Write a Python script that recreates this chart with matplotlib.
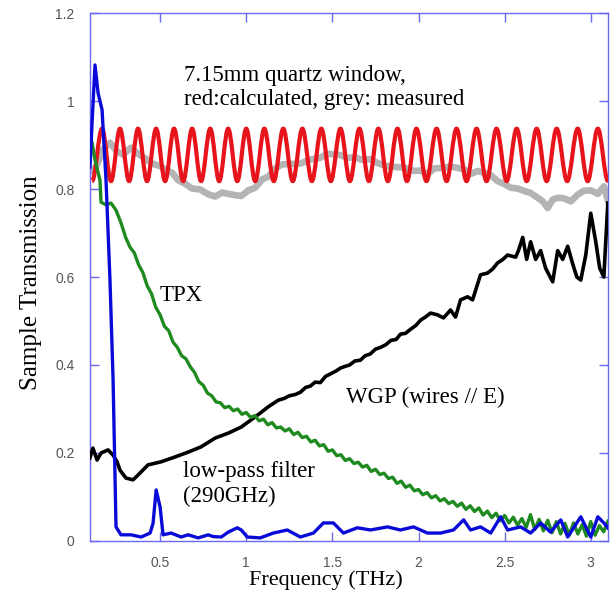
import matplotlib
matplotlib.use("Agg")
import matplotlib.pyplot as plt
from matplotlib.path import Path
from matplotlib.patches import PathPatch

# ---------------- data (frequency in THz, transmission) ----------------
# quartz window, calculated Fabry-Perot fringes: extrema positions and levels
red_trough_freq = [0.105, 0.215, 0.320, 0.424, 0.529, 0.634, 0.738, 0.843, 0.948, 1.052,
                   1.160, 1.270, 1.381, 1.491, 1.602, 1.712, 1.822, 1.933, 2.046, 2.163,
                   2.279, 2.395, 2.512, 2.628, 2.744, 2.863, 2.982, 3.100]
red_peak_freq = [0.163, 0.267, 0.372, 0.477, 0.581, 0.686, 0.791, 0.895, 1.000, 1.105,
                 1.215, 1.326, 1.436, 1.547, 1.657, 1.767, 1.878, 1.988, 2.105, 2.221,
                 2.337, 2.453, 2.570, 2.686, 2.802, 2.924, 3.041]
red_peak_val = 0.937
red_trough_val = 0.818

# quartz window, measured
grey_freq = [0.110, 0.134, 0.169, 0.209, 0.250, 0.285, 0.331, 0.372, 0.413, 0.453,
             0.500, 0.535, 0.570, 0.605, 0.645, 0.686, 0.733, 0.779, 0.820, 0.860,
             0.895, 0.936, 0.971, 1.012, 1.052, 1.093, 1.128, 1.169, 1.209, 1.256,
             1.314, 1.372, 1.430, 1.471, 1.506, 1.547, 1.587, 1.634, 1.674, 1.721,
             1.767, 1.820, 1.866, 1.913, 1.971, 2.012, 2.052, 2.093, 2.145, 2.186,
             2.227, 2.267, 2.302, 2.343, 2.378, 2.419, 2.459, 2.494, 2.535, 2.576,
             2.610, 2.651, 2.692, 2.721, 2.750, 2.779, 2.808, 2.843, 2.884, 2.924,
             2.959, 3.000, 3.041, 3.076, 3.099]
grey_val = [0.840, 0.855, 0.890, 0.905, 0.885, 0.878, 0.894, 0.880, 0.870, 0.858,
            0.852, 0.843, 0.837, 0.820, 0.812, 0.801, 0.799, 0.788, 0.783, 0.792,
            0.789, 0.786, 0.784, 0.797, 0.803, 0.822, 0.828, 0.847, 0.856, 0.857,
            0.858, 0.867, 0.871, 0.880, 0.879, 0.877, 0.871, 0.872, 0.866, 0.868,
            0.858, 0.852, 0.850, 0.849, 0.841, 0.842, 0.834, 0.847, 0.848, 0.851,
            0.848, 0.844, 0.834, 0.841, 0.837, 0.832, 0.818, 0.812, 0.803, 0.801,
            0.796, 0.791, 0.780, 0.772, 0.757, 0.776, 0.780, 0.779, 0.772, 0.787,
            0.796, 0.797, 0.789, 0.806, 0.775]

# wire-grid polarizer, wires parallel to E
wgp_freq = [0.093, 0.110, 0.134, 0.157, 0.198, 0.227, 0.250, 0.267, 0.302, 0.343,
            0.372, 0.430, 0.506, 0.587, 0.663, 0.738, 0.820, 0.895, 0.971, 1.052,
            1.128, 1.186, 1.220, 1.250, 1.285, 1.314, 1.345, 1.372, 1.400, 1.430,
            1.460, 1.490, 1.520, 1.547, 1.575, 1.600, 1.630, 1.663, 1.690, 1.720,
            1.750, 1.779, 1.810, 1.840, 1.870, 1.895, 1.925, 1.953, 1.985, 2.012,
            2.040, 2.070, 2.110, 2.145, 2.186, 2.215, 2.244, 2.285, 2.314, 2.360,
            2.401, 2.430, 2.459, 2.490, 2.517, 2.564, 2.581, 2.605, 2.628, 2.651,
            2.680, 2.709, 2.738, 2.779, 2.808, 2.837, 2.866, 2.895, 2.919, 2.942,
            2.971, 3.000, 3.029, 3.052, 3.076, 3.099]
wgp_val = [0.189, 0.211, 0.184, 0.200, 0.207, 0.195, 0.180, 0.161, 0.143, 0.139,
           0.150, 0.173, 0.180, 0.191, 0.202, 0.214, 0.234, 0.245, 0.259, 0.282,
           0.305, 0.320, 0.324, 0.330, 0.333, 0.338, 0.349, 0.352, 0.361, 0.360,
           0.374, 0.380, 0.386, 0.393, 0.397, 0.400, 0.409, 0.411, 0.421, 0.425,
           0.436, 0.440, 0.446, 0.456, 0.458, 0.470, 0.472, 0.481, 0.490, 0.502,
           0.509, 0.518, 0.514, 0.507, 0.525, 0.509, 0.548, 0.555, 0.548, 0.605,
           0.609, 0.618, 0.632, 0.640, 0.650, 0.645, 0.661, 0.690, 0.640, 0.680,
           0.640, 0.660, 0.620, 0.589, 0.660, 0.640, 0.670, 0.630, 0.600, 0.593,
           0.650, 0.745, 0.680, 0.620, 0.600, 0.768]

# TPX
tpx_freq = [0.093, 0.105, 0.122, 0.151, 0.157, 0.186, 0.215, 0.244, 0.273, 0.300,
            0.325, 0.350, 0.375, 0.400, 0.425, 0.450, 0.475, 0.500, 0.525, 0.550,
            0.575, 0.600, 0.625, 0.650, 0.675, 0.700, 0.725, 0.750, 0.775, 0.800,
            0.825, 0.850, 0.875, 0.900, 0.925, 0.950, 0.975, 1.000, 1.025, 1.050,
            1.075, 1.100, 1.125, 1.150, 1.175, 1.200, 1.225, 1.250, 1.275, 1.300,
            1.325, 1.350, 1.375, 1.400, 1.425, 1.450, 1.475, 1.500, 1.525, 1.550,
            1.575, 1.600, 1.625, 1.650, 1.675, 1.700, 1.725, 1.750, 1.775, 1.800,
            1.825, 1.850, 1.875, 1.900, 1.925, 1.950, 1.975, 2.000, 2.025, 2.050,
            2.075, 2.100, 2.125, 2.150, 2.175, 2.200, 2.225, 2.250, 2.275, 2.300,
            2.325, 2.350, 2.375, 2.400, 2.425, 2.450, 2.475, 2.500, 2.525, 2.550,
            2.575, 2.600, 2.625, 2.650, 2.675, 2.700, 2.725, 2.750, 2.775, 2.800,
            2.825, 2.850, 2.875, 2.900, 2.925, 2.950, 2.975, 3.000, 3.025, 3.050,
            3.075, 3.100]
tpx_val = [0.918, 0.905, 0.866, 0.820, 0.770, 0.764, 0.768, 0.752, 0.723, 0.690,
           0.668, 0.655, 0.628, 0.610, 0.580, 0.562, 0.531, 0.514, 0.488, 0.478,
           0.452, 0.440, 0.421, 0.414, 0.396, 0.383, 0.362, 0.354, 0.336, 0.330,
           0.316, 0.314, 0.303, 0.306, 0.296, 0.300, 0.288, 0.292, 0.281, 0.285,
           0.273, 0.277, 0.264, 0.269, 0.257, 0.259, 0.250, 0.255, 0.242, 0.247,
           0.235, 0.238, 0.225, 0.229, 0.216, 0.219, 0.204, 0.207, 0.194, 0.196,
           0.183, 0.187, 0.176, 0.179, 0.168, 0.172, 0.158, 0.163, 0.151, 0.154,
           0.142, 0.145, 0.131, 0.136, 0.122, 0.127, 0.114, 0.117, 0.105, 0.110,
           0.098, 0.103, 0.091, 0.096, 0.085, 0.090, 0.079, 0.086, 0.072, 0.080,
           0.067, 0.075, 0.059, 0.068, 0.053, 0.063, 0.046, 0.058, 0.041, 0.054,
           0.036, 0.051, 0.031, 0.060, 0.026, 0.049, 0.023, 0.047, 0.019, 0.044,
           0.016, 0.040, 0.013, 0.041, 0.016, 0.037, 0.011, 0.044, 0.013, 0.035,
           0.021, 0.045]

# 290 GHz low-pass filter
lpf_freq = [0.093, 0.105, 0.122, 0.140, 0.163, 0.186, 0.209, 0.227, 0.244, 0.273,
            0.331, 0.390, 0.442, 0.459, 0.477, 0.500, 0.517, 0.564, 0.622, 0.663,
            0.721, 0.779, 0.808, 0.855, 0.895, 0.948, 0.971, 1.006, 1.081, 1.157,
            1.238, 1.314, 1.390, 1.448, 1.506, 1.564, 1.645, 1.721, 1.820, 1.895,
            1.971, 2.052, 2.128, 2.203, 2.262, 2.302, 2.360, 2.419, 2.477, 2.517,
            2.593, 2.651, 2.709, 2.767, 2.826, 2.866, 2.942, 3.000, 3.041, 3.076,
            3.099]
lpf_val = [0.850, 0.950, 1.082, 1.018, 0.980, 0.820, 0.593, 0.366, 0.032, 0.014,
           0.014, 0.009, 0.018, 0.040, 0.116, 0.077, 0.014, 0.018, 0.009, 0.014,
           0.007, 0.014, 0.010, 0.009, 0.020, 0.030, 0.025, 0.009, 0.007, 0.018,
           0.025, 0.009, 0.018, 0.041, 0.041, 0.018, 0.030, 0.025, 0.032, 0.025,
           0.032, 0.018, 0.018, 0.025, 0.048, 0.025, 0.032, 0.018, 0.055, 0.025,
           0.032, 0.018, 0.041, 0.020, 0.048, 0.009, 0.055, 0.009, 0.055, 0.041,
           0.030]

x_ticks = [0.5, 1, 1.5, 2, 2.5, 3]
x_tick_labels = ["0.5", "1", "1.5", "2", "2.5", "3"]
y_ticks = [0, 0.2, 0.4, 0.6, 0.8, 1.0, 1.2]
y_tick_labels = ["0", "0.2", "0.4", "0.6", "0.8", "1", "1.2"]

# ---------------- figure ----------------
serif = "Liberation Serif"
sans = "Liberation Sans"
frame_col = "#6a6af0"

fig = plt.figure(figsize=(6.16, 6.06), dpi=100)
ax = fig.add_axes([0.1461, 0.1073, 0.8409, 0.8712])
ax.set_xlim(0.093, 3.10)
ax.set_ylim(0, 1.2)

# measured window transmission
ax.plot(grey_freq, grey_val, color="#b4b4b4", lw=4.8, zorder=2)

# calculated fringes: smooth curve through alternating extrema
extrema = []
for i, ft in enumerate(red_trough_freq):
    extrema.append((ft, red_trough_val))
    if i < len(red_peak_freq):
        extrema.append((red_peak_freq[i], red_peak_val))
verts = [extrema[0]]
codes = [Path.MOVETO]
for (xa, ya), (xb, yb) in zip(extrema[:-1], extrema[1:]):
    d = xb - xa
    verts += [(xa + 0.36 * d, ya), (xb - 0.36 * d, yb), (xb, yb)]
    codes += [Path.CURVE4] * 3
ax.add_patch(PathPatch(Path(verts, codes), fill=False, edgecolor="#e8141c",
                       lw=3.0, zorder=3))

ax.plot(wgp_freq, wgp_val, color="black", lw=2.6, zorder=4)
ax.plot(tpx_freq, tpx_val, color="#1f8a1f", lw=2.4, zorder=5)
ax.plot(lpf_freq, lpf_val, color="#0a0ad8", lw=2.4, zorder=6)

# frame and ticks
for sp in ax.spines.values():
    sp.set_color(frame_col)
    sp.set_linewidth(1.0)
ax.tick_params(which="both", direction="in", top=True, right=True,
               color=frame_col, length=6.5, width=1.0,
               labelcolor="#555555", labelsize=10, pad=11)
ax.set_xticks(x_ticks)
ax.set_xticklabels(x_tick_labels, fontfamily=sans)
ax.set_yticks(y_ticks)
ax.set_yticklabels(y_tick_labels, fontfamily=sans)

ax.set_xlabel("Frequency (THz)", fontfamily=serif, fontsize=16)
ax.xaxis.set_label_coords(0.4546, -0.055)
ax.set_ylabel("Sample Transmission", fontfamily=serif, fontsize=18)
ax.yaxis.set_label_coords(-0.092, 0.49)

# annotations
tkw = dict(fontfamily=serif, fontsize=16.5, color="black", va="center", ha="left")
ax.text(0.64, 1.058, "7.15mm quartz window,", **tkw)
ax.text(0.64, 1.004, "red:calculated, grey: measured", **tkw)
ax.text(0.50, 0.557, "TPX", **tkw)
ax.text(1.581, 0.327, "WGP (wires // E)", **tkw)
ax.text(0.634, 0.157, "low-pass filter", **tkw)
ax.text(0.634, 0.102, "(290GHz)", **tkw)

fig.savefig("out.png", dpi=100)
